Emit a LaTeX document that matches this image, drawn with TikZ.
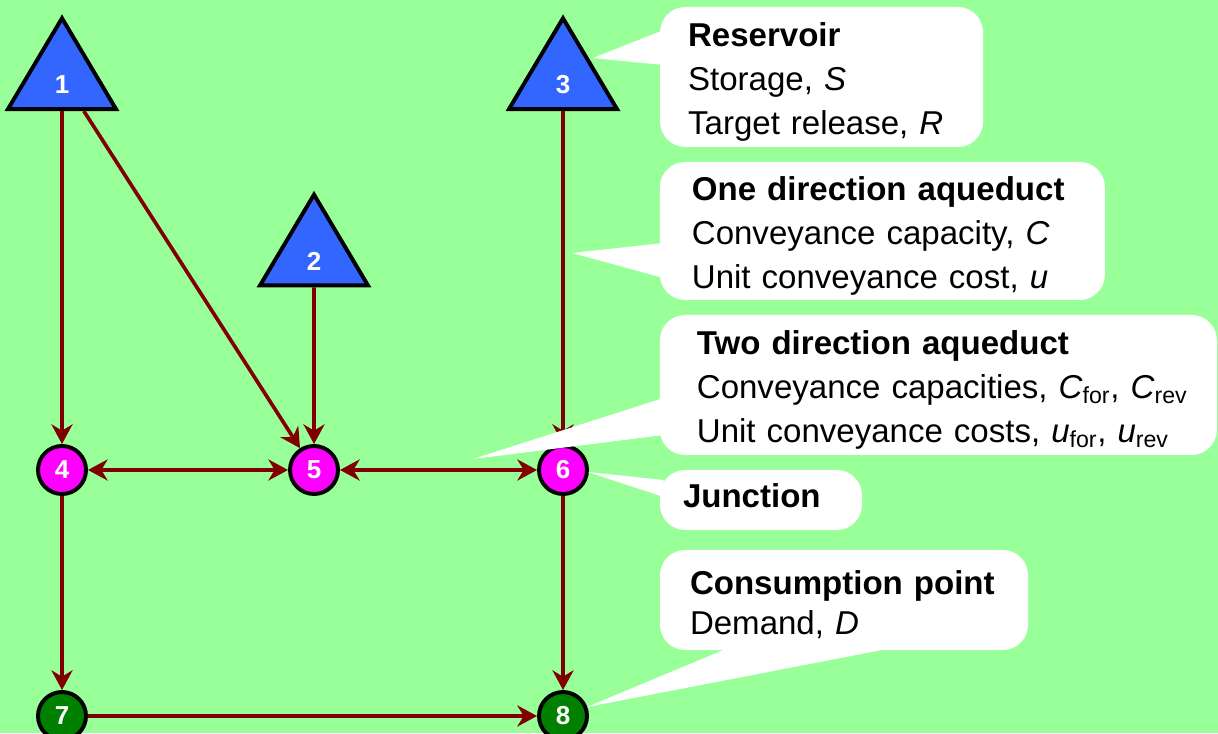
\documentclass[tikz,border=0pt]{standalone}
\usepackage{fontspec}
\setmainfont{Liberation Sans}
\usetikzlibrary{arrows.meta,shapes.geometric}
\definecolor{bg_green}{RGB}{153, 255, 153}
\definecolor{res_blue}{RGB}{51, 102, 255}
\definecolor{jn_pink}{RGB}{255, 0, 255}
\definecolor{dm_green}{RGB}{0, 128, 0}
\definecolor{aq_red}{RGB}{128, 0, 0}
\tikzstyle{res}=[isosceles triangle,isosceles triangle stretches,shape border rotate=90,
  fill=res_blue,draw=black,line width=2.8pt,inner sep=0pt,minimum width=2.7cm,minimum height=2.27cm,
  text=white,text height=24pt,text depth=0pt,font=\fontsize{18.5}{20}\selectfont\bfseries]
\tikzstyle{jn}=[circle,fill=jn_pink,draw=black,line width=2.8pt,inner sep=0pt,minimum size=1.2cm,
  text=white,font=\fontsize{18.5}{20}\selectfont\bfseries]
\tikzstyle{dm}=[circle,fill=dm_green,draw=black,line width=2.8pt,inner sep=0pt,minimum size=1.2cm,
  text=white,font=\fontsize{18.5}{20}\selectfont\bfseries]
\tikzstyle{pipe}=[draw=aq_red,line width=2.6pt,->]
\tikzstyle{pipe2}=[draw=aq_red,line width=2.6pt,<->]
\tikzstyle{note}=[rectangle,rounded corners=18pt,fill=white,inner sep=0pt,align=left,
  text height=24pt,font=\fontsize{23.5}{31.3}\selectfont]
\tikzstyle{tail}=[fill=white]
\tikzstyle{none}=[]

\begin{document}
\begin{tikzpicture}[>={Stealth[length=14pt,width=15pt,inset=4.5pt]}]
		\useasboundingbox (0, 0) rectangle (30.45, 18.325);
		\fill [bg_green] (0, 0) rectangle (30.45, 18.325);
		\node [style=res] (1) at (1.55, 16.4) {1};
		\node [style=res] (2) at (7.85, 11.99) {2};
		\node [style=res] (3) at (14.075, 16.4) {3};
		\node [style=jn] (4) at (1.55, 6.575) {4};
		\node [style=jn] (5) at (7.85, 6.575) {5};
		\node [style=jn] (6) at (14.075, 6.575) {6};
		\node [style=dm] (7) at (1.55, 0.425) {7};
		\node [style=dm] (8) at (14.075, 0.425) {8};
		\draw [style=pipe] (1) to (4);
		\draw [style=pipe] (1) to (5);
		\draw [style=pipe] (2) to (5);
		\draw [style=pipe] (3) to (6);
		\draw [style=pipe2] (4) to (5);
		\draw [style=pipe2] (5) to (6);
		\draw [style=pipe] (4) to (7);
		\draw [style=pipe] (6) to (8);
		\draw [style=pipe] (7) to (8);
		% callouts
		\node [style=note, minimum width=8.075cm, minimum height=3.5cm, text width=6.675cm] (9) at (20.54, 16.4)
			{\textbf{Reservoir}\\Storage, \textit{S}\\Target release, \textit{R}};
		\node [style=note, minimum width=11.125cm, minimum height=3.45cm, text width=9.525cm] (11) at (22.06, 12.55)
			{\textbf{One direction aqueduct}\\Conveyance capacity, \textit{C}\\Unit conveyance cost, \textit{u}};
		\node [style=note, minimum width=13.925cm, minimum height=3.5cm, text width=12.075cm] (12) at (23.46, 8.7)
			{\textbf{Two direction aqueduct}\\\mbox{Conveyance capacities, \textit{C}\textsubscript{for}, \textit{C}\textsubscript{rev}}\\\mbox{Unit conveyance costs, \textit{u}\textsubscript{for}, \textit{u}\textsubscript{rev}}};
		\node [style=note, minimum width=5.05cm, minimum height=1.5cm, text width=3.9cm,
			text height=17pt, text depth=7pt] (13) at (19.025, 5.825)
			{\textbf{Junction}};
		\node [style=note, minimum width=9.2cm, minimum height=2.5cm, text width=7.7cm,
			font=\fontsize{23.5}{28.5}\selectfont] (14) at (21.1, 3.325)
			{\textbf{Consumption point}\\Demand, \textit{D}};
		\coordinate (10) at (14.825, 16.875);
		\coordinate (15) at (14.3, 12.0);
		\coordinate (16) at (11.825, 6.85);
		\coordinate (17) at (14.7, 6.525);
		\coordinate (18) at (14.675, 0.65);
		\fill [style=tail] (10) -- ([shift={(0.1, 1.175)}]9.west) -- ([shift={(0.1, 0.3)}]9.west) -- cycle;
		\fill [style=tail] (15) -- ([shift={(0.1, -0.3)}]11.west) -- ([shift={(0.1, -1.175)}]11.west) -- cycle;
		\fill [style=tail] (16) -- ([shift={(0.1, -0.325)}]12.west) -- ([shift={(0.1, -1.25)}]12.west) -- cycle;
		\fill [style=tail] (17) -- ([shift={(0.1, 0.5)}]13.west) -- ([shift={(0.1, 0.075)}]13.west) -- cycle;
		\fill [style=tail] (18) -- ([shift={(-2.85, 0.075)}]14.south) -- ([shift={(1.3, 0.075)}]14.south) -- cycle;
\end{tikzpicture}
\end{document}
